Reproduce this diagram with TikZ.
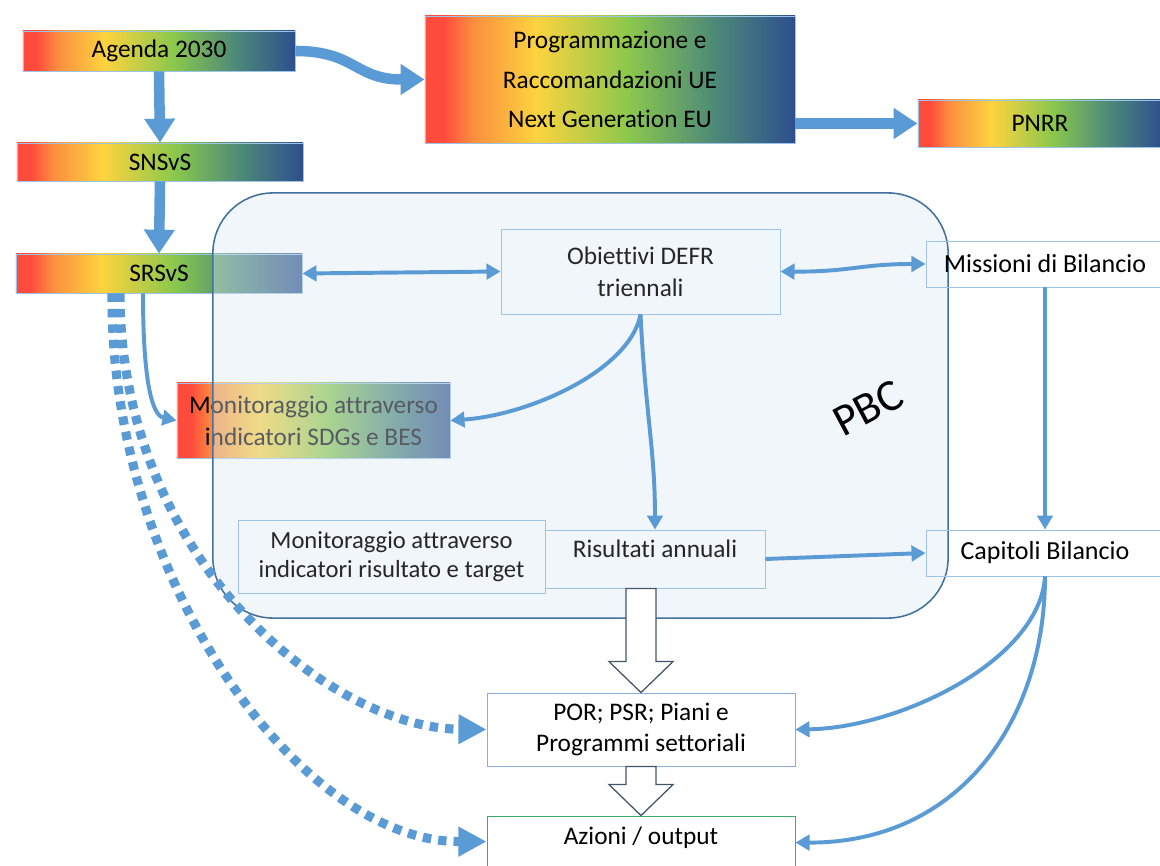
\documentclass[tikz,border=0pt]{standalone}
\usepackage{fontspec}
\setmainfont{Carlito}[Ligatures={NoCommon}]
\usetikzlibrary{arrows.meta, calc, positioning}

\definecolor{arrowblue}{HTML}{5B9BD5}
\definecolor{boxline}{HTML}{9DC3E6}
\definecolor{porline}{HTML}{8FAADC}
\definecolor{pbcline}{HTML}{41719C}
\definecolor{pbcfill}{HTML}{DCE8F6}
\definecolor{blockline}{HTML}{44546A}
\definecolor{outgreen}{HTML}{3BAA6A}
\definecolor{gRed}{HTML}{FF4B3C}
\definecolor{gOrange}{HTML}{FB8F3F}
\definecolor{gYellow}{HTML}{FDD33F}
\definecolor{gGreen}{HTML}{8BC84C}
\definecolor{gTeal}{HTML}{4D8A78}
\definecolor{gBlue}{HTML}{2D4F8E}

\pgfdeclarehorizontalshading{sdgshade}{100bp}{color(0bp)=(gRed); color(25bp)=(gRed);
  color(27.5bp)=(gRed); color(31.5bp)=(gOrange); color(40bp)=(gYellow);
  color(52.5bp)=(gGreen); color(64bp)=(gTeal); color(75bp)=(gBlue); color(100bp)=(gBlue)}

\tikzset{
  gradbox/.style={draw=boxline, line width=0.6pt, shade, shading=sdgshade, text=black,
    inner sep=0pt, align=center},
  plainbox/.style={draw=boxline, line width=0.6pt, text=black!85, inner sep=0pt, align=center},
  fatarrow/.style={draw=arrowblue, line width=7.5pt, -{Triangle[width=21pt,length=17pt]}},
  thinarrow/.style={draw=arrowblue, line width=2.8pt, -{Triangle[width=11pt,length=10pt]}},
  dotarrow/.style={draw=arrowblue, line width=6.5pt, dash pattern=on 6pt off 5pt,
    -{Triangle[width=20pt,length=20pt]}},
  blockarrow/.style={draw=blockline, fill=white, line width=0.9pt, line join=miter},
  pbcbox/.style={draw=pbcline, line width=1.1pt, fill=pbcfill, fill opacity=0.4,
    rounded corners=1.5cm},
}

% block arrow from #1 down to tip #2
\newcommand{\blockarr}[2]{%
  \draw[blockarrow] ($(#1)+(-15,0)$) -- ($(#2)+(-15,-31)$) -- ($(#2)+(-32,-31)$) -- (#2)
    -- ($(#2)+(32,-31)$) -- ($(#2)+(15,-31)$) -- ($(#1)+(15,0)$) -- cycle;}

\begin{document}
\begin{tikzpicture}[x=0.025cm, y=-0.025cm, font=\fontsize{18}{22}\selectfont]
    \useasboundingbox (0,0) rectangle (1160,866);

    % --- 1. Box con sfumatura ---
    \node[gradbox, minimum width=6.8cm, minimum height=1cm] (agenda) at (159,51) {Agenda 2030};
    \node[gradbox, minimum width=7.15cm, minimum height=0.95cm] (snsvs) at (160,162) {SNSvS};
    \node[gradbox, minimum width=7.15cm, minimum height=0.975cm] (srsvs) at (159,273.5) {SRSvS};
    \node[gradbox, minimum width=9.25cm, minimum height=3.175cm,
          font=\fontsize{18}{28}\selectfont] (prog) at (610,79.5)
          {Programmazione e\\Raccomandazioni UE\\Next Generation EU};
    \node[gradbox, minimum width=6.1cm, minimum height=1.175cm] (pnrr) at (1040,123.5) {PNRR};
    \node[gradbox, minimum width=6.825cm, minimum height=1.875cm,
          font=\fontsize{18}{22.7}\selectfont] (sdg) at (313.5,420.5)
          {Monitoraggio attraverso\\indicatori SDGs e BES};

    % --- 2. Area PBC ---
    \node[pbcbox, minimum width=18.375cm, minimum height=10.625cm] (pbcarea) at (580.5,405.5) {};
    \node[rotate=28, font=\fontsize{32}{36}\selectfont] (pbc) at (868,408) {PBC};

    % --- 3. Box semplici ---
    \node[plainbox, minimum width=6.975cm, minimum height=2.125cm,
          font=\fontsize{18}{22.7}\selectfont] (obiettivi) at (640.5,271.5)
          {Obiettivi DEFR\\triennali};
    \node[plainbox, text=black, minimum width=5.95cm, minimum height=1.15cm,
          font=\fontsize{18.5}{22}\selectfont] (missioni) at (1045,264) {Missioni di Bilancio};
    \node[plainbox, text=black, minimum width=5.95cm, minimum height=1.15cm,
          font=\fontsize{18.5}{22}\selectfont] (capitoli) at (1045,553) {Capitoli Bilancio};
    \node[plainbox, minimum width=5.5cm, minimum height=1.45cm, text depth=15pt] (risultati)
          at (655,559) {Risultati annuali};
    \node[plainbox, minimum width=7.675cm, minimum height=1.825cm,
          font=\fontsize{17.5}{20.6}\selectfont] (target) at (391.5,556.5)
          {Monitoraggio attraverso\\indicatori risultato e target};
    \node[plainbox, draw=porline, fill=white, text=black, minimum width=7.7cm, minimum height=1.825cm,
          font=\fontsize{18}{22}\selectfont] (por) at (641,729.5)
          {POR; PSR; Piani e\\Programmi settoriali};
    \node[plainbox, draw=outgreen, fill=white, text=black, minimum width=7.7cm, minimum height=1.6cm,
          text depth=17pt] (azioni) at (641,848) {Azioni / output};

    % --- 4. Frecce ---
    \draw[fatarrow] (agenda.south) -- (snsvs.north);
    \draw[fatarrow] (snsvs.south) -- (srsvs.north);
    \draw[fatarrow] (agenda.east) .. controls +(60,0) and +(-70,0) .. (prog.west);
    \draw[fatarrow] (prog.east |- pnrr.west) -- (pnrr.west);

    \draw[thinarrow, {Triangle[width=11pt,length=10pt]}-{Triangle[width=11pt,length=10pt]}]
        (srsvs.east) -- (obiettivi.west);
    \draw[thinarrow, {Triangle[width=11pt,length=10pt]}-{Triangle[width=11pt,length=10pt]}]
        (obiettivi.east) .. controls (850,272) and (860,264) .. (missioni.west);
    \draw[thinarrow] (missioni.south) -- (capitoli.north);
    \draw[thinarrow] (risultati.east) -- (capitoli.west);
    \draw[thinarrow] (obiettivi.south) .. controls (630,370) and (530,415) .. (sdg.east);
    \draw[thinarrow] (obiettivi.south) .. controls +(5,100) and +(0,-80) .. (risultati.north);
    \draw[thinarrow] ($(srsvs.south)+(-16,0)$) .. controls (143,370) and (150,415) .. (sdg.west);

    \draw[dotarrow] ($(srsvs.south)+(-39,0)$) .. controls (120,560) and (330,728) .. (por.west);
    \draw[dotarrow] ($(srsvs.south)+(-47,0)$) .. controls (110,580) and (300,842)
        .. ($(azioni.north west)+(0,26)$);

    \draw[thinarrow] (capitoli.south) .. controls (1040,660) and (900,728) .. (por.east);
    \draw[thinarrow] (capitoli.south) .. controls (1045,720) and (960,843)
        .. ($(azioni.north east)+(0,27)$);

    % --- 5. Frecce a blocco ---
    \blockarr{risultati.south -| por.north}{por.north}
    \blockarr{por.south}{azioni.north}

\end{tikzpicture}
\end{document}
